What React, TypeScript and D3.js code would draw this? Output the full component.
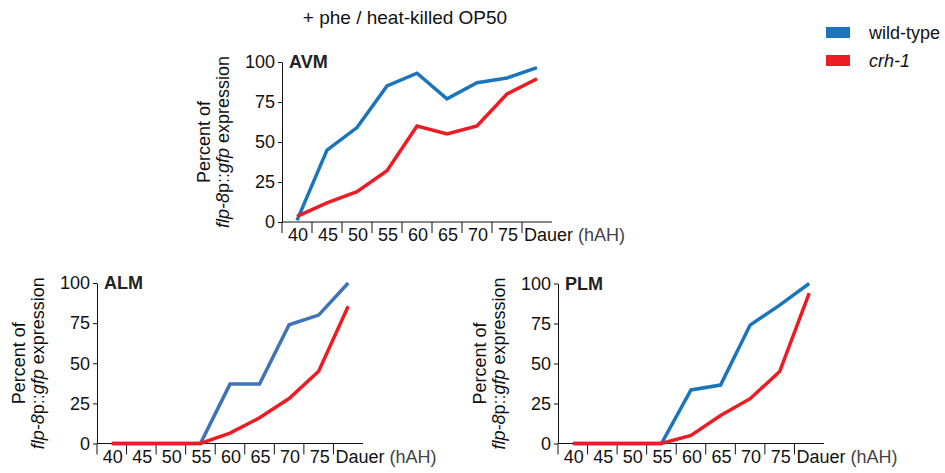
import React, { useRef, useEffect } from 'react';
import * as d3 from 'd3';

// time points (hours after hatching)
const categories = ['40', '45', '50', '55', '60', '65', '70', '75', 'Dauer'];
const yTicks = [0, 25, 50, 75, 100];

// percent of animals with flp-8p::gfp expression
const avmWildType = [1, 45, 59, 85, 93, 77, 87, 90, 96.5];
const avmCrh1 = [3.5, 12, 19, 32, 60, 55, 60, 80, 89.5];
const almWildType = [0, 0, 0, 0, 37, 37, 74, 80, 100];
const almCrh1 = [0, 0, 0, 0, 6.5, 16, 28, 45, 85.5];
const plmWildType = [0, 0, 0, 0, 33.5, 36.5, 74, 86.5, 100];
const plmCrh1 = [0, 0, 0, 0, 5, 17.5, 28, 45, 94];

const legendItems = [
  { label: 'wild-type', color: '#1b75bb', italic: false },
  { label: 'crh-1', color: '#ec1c24', italic: true },
];

const FONT = '"Liberation Sans", Arial, sans-serif';

const drawPanel = (svg, p) => {
  const g = svg.append('g');

  const x = d3.scaleBand().domain(categories).range([p.x0, p.x1]);
  const y = d3.scaleLinear().domain([0, 100]).range([p.yBot, p.yTop]);

  // y axis
  const yAxis = g.append('g')
    .attr('transform', `translate(${p.x0},0)`)
    .call(d3.axisLeft(y).tickValues(yTicks).tickSize(4).tickSizeOuter(0).tickPadding(3));
  yAxis.selectAll('path, line').attr('stroke', '#111');
  yAxis.selectAll('text')
    .attr('font-size', 18)
    .attr('font-family', FONT)
    .attr('fill', '#111');

  // x axis line with separators between categories
  g.append('line')
    .attr('x1', p.x0).attr('x2', p.x1)
    .attr('y1', p.yBot).attr('y2', p.yBot)
    .attr('stroke', '#111');
  g.selectAll('.sep')
    .data(categories)
    .join('line')
    .attr('x1', d => x(d)).attr('x2', d => x(d))
    .attr('y1', p.yBot).attr('y2', p.yBot + 11)
    .attr('stroke', '#111');

  const lbl = g.selectAll('.xl')
    .data(categories)
    .join('text')
    .attr('x', d => d === 'Dauer' ? x(d) + 2 : x(d) + x.bandwidth() / 2 + 1)
    .attr('y', p.yBot + 19)
    .attr('text-anchor', d => d === 'Dauer' ? 'start' : 'middle')
    .attr('font-size', 18)
    .attr('font-family', FONT)
    .attr('fill', '#111')
    .text(d => d);
  lbl.filter(d => d === 'Dauer')
    .append('tspan')
    .attr('fill', '#444')
    .text(' (hAH)');

  // panel name
  g.append('text')
    .attr('x', p.x0 + 7)
    .attr('y', p.yTop + 6)
    .attr('font-size', 18)
    .attr('font-weight', 'bold')
    .attr('font-family', FONT)
    .attr('fill', '#222')
    .text(p.name);

  // y label (two lines, rotated)
  const yl = g.append('g')
    .attr('transform', `translate(${p.x0 - 72},${(p.yTop + p.yBot) / 2}) rotate(-90)`)
    .attr('font-size', 18)
    .attr('font-family', FONT)
    .attr('fill', '#111')
    .attr('text-anchor', 'middle');
  yl.append('text').attr('x', 0).attr('y', 0).text('Percent of');
  const t2 = yl.append('text').attr('x', 0).attr('y', 19);
  t2.append('tspan').attr('font-style', 'italic').text('flp-8');
  t2.append('tspan').text('p::');
  t2.append('tspan').attr('font-style', 'italic').text('gfp');
  t2.append('tspan').text(' expression');

  const line = d3.line()
    .x((d, i) => x(categories[i]) + x.bandwidth() / 2)
    .y(d => y(d));

  [[p.wt, p.wtColor], [p.crh, '#ec1c24']].forEach(([vals, color]) => {
    g.append('path')
      .datum(vals)
      .attr('d', line)
      .attr('fill', 'none')
      .attr('stroke', color)
      .attr('stroke-width', 3.5)
      .attr('stroke-linejoin', 'miter');
  });
};

const App = () => {
  const svgRef = useRef();

  useEffect(() => {
    const width = 945;
    const height = 473;
    const svg = d3.select(svgRef.current)
      .attr('width', width)
      .attr('height', height);
    svg.selectAll('*').remove();

    // title
    svg.append('text')
      .attr('x', 405)
      .attr('y', 24)
      .attr('text-anchor', 'middle')
      .attr('font-size', 19)
      .attr('font-family', FONT)
      .attr('fill', '#111')
      .text('+ phe / heat-killed OP50');

    drawPanel(svg, { name: 'AVM', x0: 282, x1: 552, yTop: 62, yBot: 222, wt: avmWildType, crh: avmCrh1, wtColor: '#1b75bb' });
    drawPanel(svg, { name: 'ALM', x0: 97, x1: 363, yTop: 283, yBot: 443.5, wt: almWildType, crh: almCrh1, wtColor: '#3f72b9' });
    drawPanel(svg, { name: 'PLM', x0: 558, x1: 824, yTop: 283.5, yBot: 443.5, wt: plmWildType, crh: plmCrh1, wtColor: '#1b75bb' });

    // legend
    const leg = svg.append('g');
    legendItems.forEach((item, i) => {
      leg.append('rect')
        .attr('x', 826).attr('y', 27 + i * 28)
        .attr('width', 24).attr('height', 11)
        .attr('fill', item.color);
      leg.append('text')
        .attr('x', 869).attr('y', 39 + i * 28)
        .attr('font-size', 18)
        .attr('font-family', FONT)
        .attr('font-style', item.italic ? 'italic' : 'normal')
        .attr('fill', '#111')
        .text(item.label);
    });
  }, []);

  return (
    <svg ref={svgRef} style={{ position: 'absolute', left: 0, top: 0 }}></svg>
  );
};

export default App;
